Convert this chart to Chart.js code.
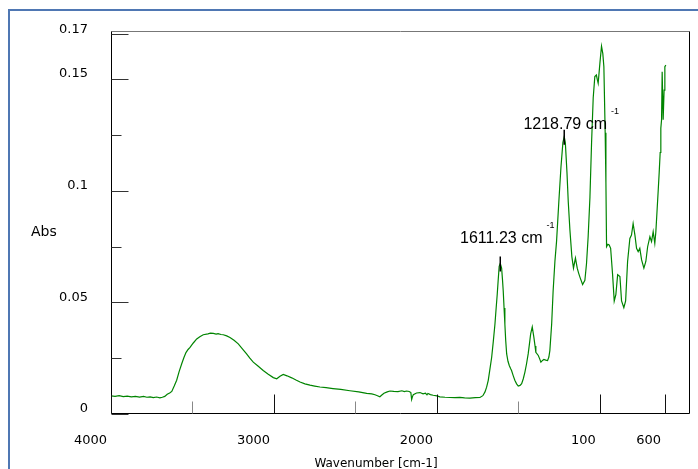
<!DOCTYPE html>
<html>
<head>
<meta charset="utf-8">
<script src="https://cdn.jsdelivr.net/npm/chart.js@4.4.0/dist/chart.umd.min.js"></script>
<style>
  html, body { margin: 0; padding: 0; background: #fff; }
  #spectrum { display: block; }
</style>
</head>
<body>
<canvas id="spectrum" width="698" height="469"></canvas>
<script>
// IR spectrum (wavenumber in cm-1, absorbance)
var wavenumbers = [
  4000, 3975, 3950, 3925, 3900, 3875, 3850, 3825, 3800, 3780, 3760, 3740, 3720, 3700, 3685, 3670,
  3655, 3640, 3627, 3612, 3597, 3582, 3566, 3553, 3540, 3527, 3515, 3495, 3474, 3455, 3434, 3405,
  3390, 3372, 3355, 3343, 3325, 3311, 3290, 3270, 3245, 3219, 3195, 3168, 3148, 3127, 3100, 3066,
  3035, 3004, 2983, 2963, 2943, 2920, 2891, 2865, 2840, 2810, 2779, 2750, 2718, 2680, 2638, 2590,
  2534, 2480, 2431, 2400, 2380, 2365, 2350, 2338, 2325, 2305, 2288, 2265, 2239, 2215, 2200, 2186,
  2170, 2160, 2155, 2150, 2145, 2125, 2104, 2085, 2070, 2061, 2055, 2040, 2023, 2000, 1982, 1950,
  1920, 1890, 1859, 1830, 1797, 1765, 1736, 1718, 1705, 1695, 1685, 1675, 1664, 1654, 1644, 1637,
  1630, 1624, 1618, 1611.23, 1603, 1598, 1593, 1588, 1583, 1578, 1572, 1564, 1556, 1548, 1542, 1532,
  1522, 1511, 1501, 1490, 1480, 1470, 1460, 1450, 1440, 1432, 1425, 1415, 1405, 1398, 1393, 1378,
  1370, 1362, 1352, 1344, 1332, 1321, 1313, 1307, 1296, 1287, 1276, 1266, 1252, 1239, 1227, 1218.79,
  1212, 1202, 1194, 1184, 1172, 1162, 1150, 1139, 1130, 1122, 1106, 1092, 1082, 1072, 1061, 1051,
  1041, 1031, 1021.5, 1016, 1010.5, 1000, 990, 982, 975.5, 967.5, 963, 959, 951, 943, 934, 922,
  912, 902, 891, 877, 867, 853, 842, 830, 816, 806, 796, 785, 775, 765, 755, 744,
  730, 718, 707, 693, 683, 673, 663, 656.5, 648.5, 642, 636, 630, 626, 621.5, 617.8, 611.7,
  606, 601.3, 595.2
];
var absorbance = [
  0.0081, 0.0079, 0.0082, 0.0078, 0.0080, 0.0077, 0.0079, 0.0076, 0.0079, 0.0075, 0.0077, 0.0073, 0.0076, 0.0072, 0.0075, 0.0079,
  0.0088, 0.0094, 0.0101, 0.0125, 0.0151, 0.0190, 0.0225, 0.0252, 0.0275, 0.0289, 0.0298, 0.0318, 0.0336, 0.0346, 0.0355, 0.0359,
  0.0362, 0.0361, 0.0358, 0.0360, 0.0356, 0.0355, 0.0350, 0.0343, 0.0330, 0.0314, 0.0293, 0.0269, 0.0250, 0.0232, 0.0216, 0.0195,
  0.0178, 0.0163, 0.0158, 0.0169, 0.0177, 0.0171, 0.0162, 0.0152, 0.0143, 0.0135, 0.0129, 0.0125, 0.0121, 0.0118, 0.0114, 0.0110,
  0.0104, 0.0099, 0.0092, 0.0090, 0.0086, 0.0082, 0.0077, 0.0085, 0.0093, 0.0099, 0.0103, 0.0101, 0.0100, 0.0104, 0.0100, 0.0103,
  0.0101, 0.0096, 0.0065, 0.0078, 0.0086, 0.0094, 0.0096, 0.0090, 0.0093, 0.0086, 0.0092, 0.0087, 0.0084, 0.0081, 0.0077, 0.0075,
  0.0074, 0.0073, 0.0074, 0.0072, 0.0071, 0.0073, 0.0074, 0.0082, 0.0099, 0.0120, 0.0151, 0.0200, 0.0254, 0.0325, 0.0402, 0.0470,
  0.0535, 0.0600, 0.0661, 0.0674, 0.0653, 0.0605, 0.0550, 0.0475, 0.0402, 0.0330, 0.0269, 0.0236, 0.0217, 0.0204, 0.0195, 0.0172,
  0.0151, 0.0135, 0.0125, 0.0128, 0.0136, 0.0158, 0.0188, 0.0225, 0.0269, 0.0315, 0.0358, 0.0390, 0.0343, 0.0305, 0.0276, 0.0262,
  0.0248, 0.0232, 0.0240, 0.0244, 0.0241, 0.0239, 0.0255, 0.0284, 0.0402, 0.0550, 0.0683, 0.0772, 0.0949, 0.1104, 0.1215, 0.1242,
  0.1215, 0.1082, 0.0949, 0.0825, 0.0705, 0.0653, 0.0698, 0.0653, 0.0630, 0.0612, 0.0580, 0.0599, 0.0674, 0.0794, 0.0971, 0.1215,
  0.1415, 0.1511, 0.1518, 0.1498, 0.1481, 0.1570, 0.1647, 0.1614, 0.1555, 0.1259, 0.1038, 0.0749, 0.0760, 0.0757, 0.0742, 0.0624,
  0.0506, 0.0535, 0.0624, 0.0616, 0.0506, 0.0476, 0.0506, 0.0683, 0.0786, 0.0801, 0.0853, 0.0801, 0.0742, 0.0727, 0.0742, 0.0690,
  0.0653, 0.0683, 0.0749, 0.0794, 0.0772, 0.0816, 0.0764, 0.0816, 0.0919, 0.1002, 0.1082, 0.1171, 0.1280, 0.1318, 0.1533, 0.1318,
  0.1450, 0.1555, 0.1562
];

var xTickValues = [4000, 3500, 3000, 2500, 2000, 1500, 1000, 600];
var xTickLabels = ["4000", "", "3000", "", "2000", "", "100", "600"];
var yTickValues = [0, 0.025, 0.05, 0.075, 0.1, 0.125, 0.15, 0.17];
var yTickLabels = ["0", "", "0.05", "", "0.1", "", "0.15", "0.17"];

var peakPositions = [1611.23, 1218.79];
var peakValues = [0.0674, 0.1242];
var peakLabels = ["1611.23 cm", "1218.79 cm"];

var points = wavenumbers.map(function (w, i) {
  return { x: w, y: absorbance[i] };
});

var spectrumFrame = {
  id: "spectrumFrame",
  beforeDraw: function (chart) {
    var ctx = chart.ctx;
    ctx.save();
    ctx.fillStyle = "#ffffff";
    ctx.fillRect(0, 0, chart.width, chart.height);
    // outer blue frame
    ctx.strokeStyle = "#4f77b3";
    ctx.lineWidth = 2;
    ctx.beginPath();
    ctx.moveTo(9, chart.height);
    ctx.lineTo(9, 10);
    ctx.lineTo(chart.width, 10);
    ctx.stroke();
    ctx.restore();
  },
  afterDraw: function (chart) {
    var ctx = chart.ctx;
    var area = chart.chartArea;
    var xs = chart.scales.x;
    var ys = chart.scales.y;
    var L = Math.round(area.left) + 0.5, R = Math.round(area.right) - 0.5;
    var T = Math.round(area.top) + 0.5, B = Math.round(area.bottom) - 0.5;
    ctx.save();
    ctx.lineWidth = 1;

    // plot box
    ctx.strokeStyle = "#777";
    ctx.beginPath(); ctx.moveTo(L, T); ctx.lineTo(R, T); ctx.stroke();
    ctx.strokeStyle = "#000";
    ctx.beginPath(); ctx.moveTo(L, T); ctx.lineTo(L, B); ctx.lineTo(R, B); ctx.lineTo(R, T); ctx.stroke();

    // tick marks, drawn inwards
    yTickValues.forEach(function (v, i) {
      var y = Math.round(ys.getPixelForValue(v)) + 0.5;
      var len = yTickLabels[i] ? 17 : 10;
      ctx.strokeStyle = "#333";
      ctx.beginPath(); ctx.moveTo(L, y); ctx.lineTo(L + len, y); ctx.stroke();
    });
    xTickValues.forEach(function (v, i) {
      var x = Math.round(xs.getPixelForValue(v)) + 0.5;
      var major = xTickLabels[i] !== "";
      ctx.strokeStyle = major ? "#111" : "#888";
      ctx.beginPath(); ctx.moveTo(x, B); ctx.lineTo(x, B - (major ? 19 : 12)); ctx.stroke();
    });

    // peak labels
    var rise = [20, 8];
    peakPositions.forEach(function (p, i) {
      var px = xs.getPixelForValue(p);
      var py = ys.getPixelForValue(peakValues[i]);
      ctx.strokeStyle = "#000";
      ctx.lineWidth = 1.5;
      ctx.beginPath(); ctx.moveTo(px, py - 7); ctx.lineTo(px, py + 8); ctx.stroke();
      ctx.fillStyle = "#000";
      ctx.font = '16px "Liberation Sans", Arial, sans-serif';
      ctx.textAlign = "center";
      ctx.textBaseline = "alphabetic";
      var base = py - rise[i];
      ctx.fillText(peakLabels[i], px + 1, base);
      var w = ctx.measureText(peakLabels[i]).width;
      ctx.font = '9px "Liberation Sans", Arial, sans-serif';
      ctx.textAlign = "left";
      ctx.fillText("-1", px + 1 + w / 2 + 4, base - 15);
    });

    // axis titles
    ctx.fillStyle = "#000";
    ctx.font = '14px "DejaVu Sans", sans-serif';
    ctx.textAlign = "left";
    ctx.textBaseline = "middle";
    ctx.fillText("Abs", 31, 232);
    ctx.font = '12px "DejaVu Sans", sans-serif';
    ctx.textAlign = "center";
    ctx.textBaseline = "alphabetic";
    ctx.fillText("Wavenumber [cm-1]", 376, 467);
    ctx.restore();
  }
};

new Chart(document.getElementById("spectrum"), {
  type: "line",
  data: {
    datasets: [{
      data: points,
      borderColor: "rgb(0, 132, 0)",
      borderWidth: 1.2,
      pointRadius: 0,
      fill: false,
      tension: 0
    }]
  },
  options: {
    responsive: false,
    animation: false,
    devicePixelRatio: 1,
    layout: { padding: { left: 0, top: 27, right: 8, bottom: 0 } },
    plugins: {
      legend: { display: false },
      tooltip: { enabled: false }
    },
    scales: {
      x: {
        type: "linear",
        reverse: true,
        min: 447,
        max: 4000,
        afterBuildTicks: function (s) {
          s.ticks = xTickValues.map(function (v) { return { value: v }; });
        },
        afterFit: function (s) { s.height = 55; },
        grid: { display: false, drawTicks: false },
        border: { display: false },
        ticks: {
          autoSkip: false,
          maxRotation: 0,
          minRotation: 0,
          align: "end",
          labelOffset: -4,
          padding: 19,
          color: "#000",
          font: { family: "DejaVu Sans", size: 13 },
          callback: function (v, i) { return xTickLabels[i]; }
        }
      },
      y: {
        type: "linear",
        min: 0,
        max: 0.1716,
        afterBuildTicks: function (s) {
          s.ticks = yTickValues.map(function (v) { return { value: v }; });
        },
        afterFit: function (s) { s.width = 111; },
        grid: { display: false, drawTicks: false },
        border: { display: false },
        ticks: {
          autoSkip: false,
          labelOffset: -5,
          padding: 23,
          color: "#000",
          font: { family: "DejaVu Sans", size: 13 },
          callback: function (v, i) { return yTickLabels[i]; }
        }
      }
    }
  },
  plugins: [spectrumFrame]
});
</script>
</body>
</html>
